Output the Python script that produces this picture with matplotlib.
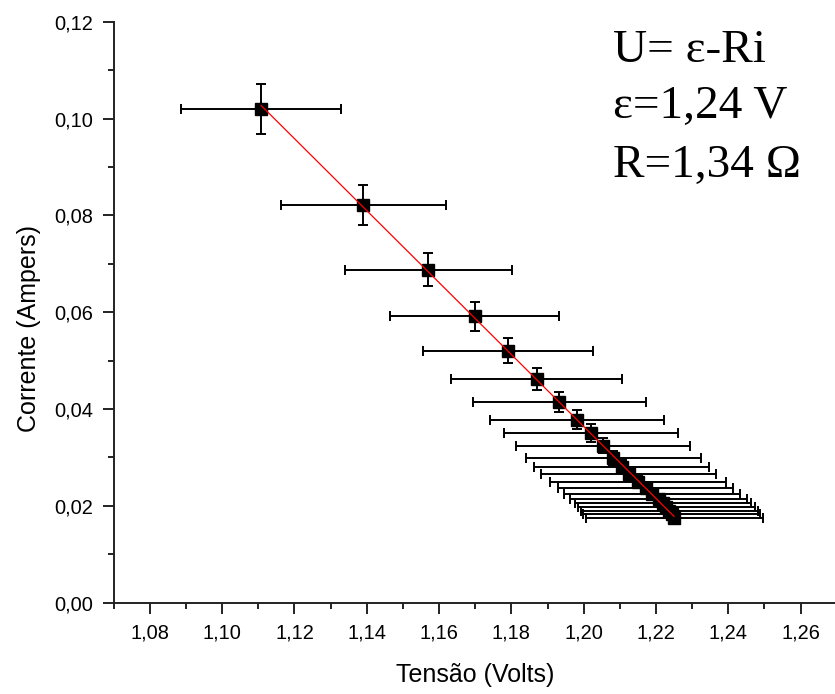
import numpy as np
from matplotlib import pyplot as plt
from matplotlib.ticker import MultipleLocator

# dados
tensao = [1.1108, 1.1390, 1.1570, 1.1699, 1.1791, 1.1870, 1.1932, 1.1981,
          1.2020, 1.2053, 1.2082, 1.2105, 1.2124, 1.2151, 1.2171, 1.2189,
          1.2207, 1.2219, 1.2229, 1.2237, 1.2243, 1.2250]
corrente = [0.1020, 0.0821, 0.0688, 0.0591, 0.0520, 0.0462, 0.0415, 0.0378,
            0.0350, 0.0324, 0.0298, 0.0281, 0.0265, 0.0249, 0.0236, 0.0224,
            0.0214, 0.0205, 0.0197, 0.0189, 0.0182, 0.0175]
erro_tensao = [0.0222, 0.0228, 0.0231, 0.0234, 0.0236, 0.0237, 0.0239, 0.0240,
               0.0240, 0.0241, 0.0242, 0.0242, 0.0242, 0.0243, 0.0243, 0.0244,
               0.0244, 0.0244, 0.0245, 0.0245, 0.0245, 0.0245]
erro_corrente = [0.0051, 0.0041, 0.0034, 0.0030, 0.0026, 0.0023, 0.0021, 0.0019,
                 0.0018, 0.0016, 0.0015, 0.0014, 0.0013, 0.0012, 0.0012, 0.0011,
                 0.0011, 0.0010, 0.0010, 0.0009, 0.0009, 0.0009]

xticks = [1.08, 1.10, 1.12, 1.14, 1.16, 1.18, 1.20, 1.22, 1.24, 1.26]
xtick_labels = ["1,08", "1,10", "1,12", "1,14", "1,16", "1,18", "1,20", "1,22", "1,24", "1,26"]
yticks = [0.00, 0.02, 0.04, 0.06, 0.08, 0.10, 0.12]
ytick_labels = ["0,00", "0,02", "0,04", "0,06", "0,08", "0,10", "0,12"]

anotacoes = ["U= \u03b5-Ri", "\u03b5=1,24 V", "R=1,34 \u03a9"]

plt.rcParams['font.family'] = ['Liberation Sans', 'DejaVu Sans']

fig = plt.figure(figsize=(8.35, 6.94), dpi=100)
ax = fig.add_axes([0.1362, 0.1318, 0.8659, 0.8369])

ax.errorbar(tensao, corrente, xerr=erro_tensao, yerr=erro_corrente, fmt="s",
            color="black", ecolor="black", markersize=8, elinewidth=1.4,
            capsize=3.8, capthick=1.4, zorder=2)

# ajuste linear
a, b = np.polyfit(tensao, corrente, 1)
xs = np.array([min(tensao), max(tensao)])
ax.plot(xs, a * xs + b, color="red", linewidth=0.9, zorder=3)

ax.set_xlim(1.07, 1.27)
ax.set_ylim(0, 0.12)
ax.set_xticks(xticks)
ax.set_xticklabels(xtick_labels)
ax.set_yticks(yticks)
ax.set_yticklabels(ytick_labels)
ax.xaxis.set_minor_locator(MultipleLocator(0.01))
ax.yaxis.set_minor_locator(MultipleLocator(0.01))

for s in ["top", "right"]:
    ax.spines[s].set_visible(False)
for s in ["left", "bottom"]:
    ax.spines[s].set_linewidth(1.4)
    ax.spines[s].set_color("#222222")

ax.tick_params(which="major", length=8, width=1.4, color="#222222", labelsize=14.4, pad=7)
ax.tick_params(which="minor", length=4.5, width=1.4, color="#222222")

ax.set_xlabel("Tens\u00e3o (Volts)", fontsize=18)
ax.set_ylabel("Corrente (Ampers)", fontsize=18)
ax.xaxis.set_label_coords(0.5, -0.104)
ax.yaxis.set_label_coords(-0.1, 0.471)

ys = [0.911, 0.8295, 0.7454]
for txt, y in zip(anotacoes, ys):
    fig.text(0.734, y, txt, family=["Liberation Serif", "DejaVu Serif"],
             fontsize=34, ha="left", va="baseline")

fig.savefig("out.png", dpi=100)
